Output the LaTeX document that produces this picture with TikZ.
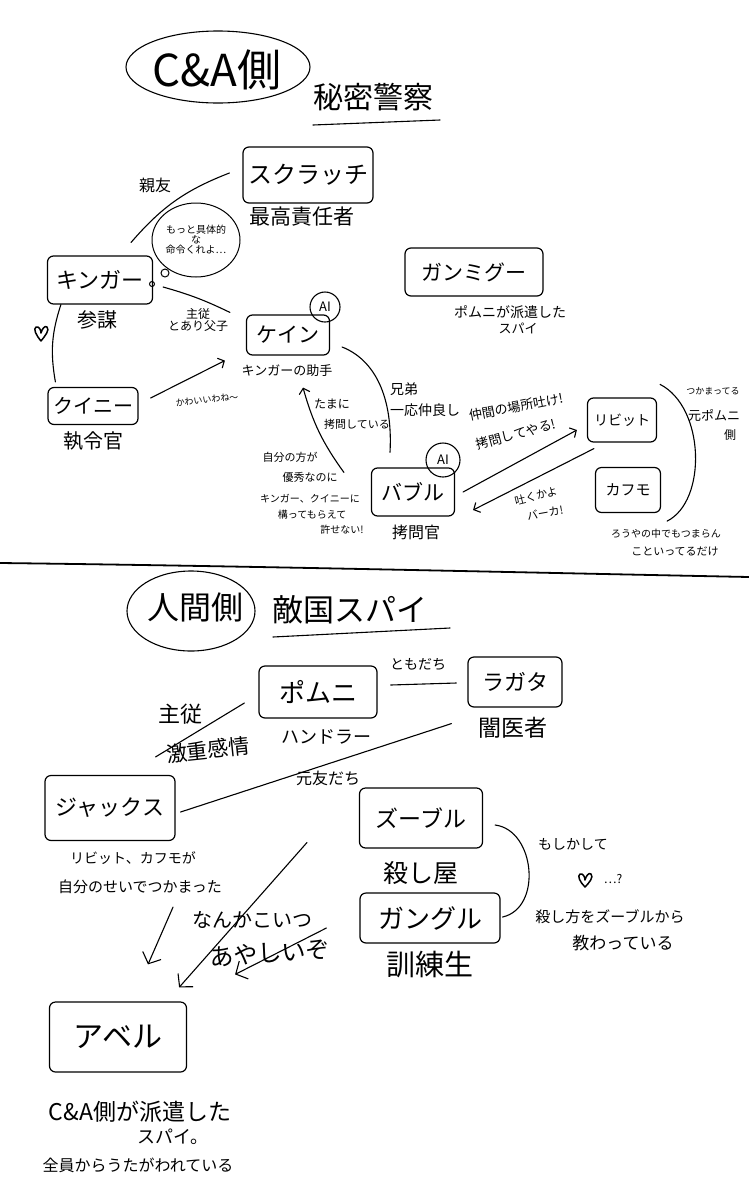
\documentclass[tikz,border=0pt]{standalone}
\usepackage{fontspec}
\setmainfont{Noto Sans CJK JP}
\usetikzlibrary{arrows.meta,calc,shapes.geometric}
\newcommand\fsz[1]{\fontsize{#1}{#1}\selectfont}
\begin{document}
\begin{tikzpicture}[x=1pt,y=-1pt,
  box/.style={draw, line width=1.2pt, rounded corners=6pt, inner sep=0pt},
  txt/.style={inner sep=0pt},
  ln/.style={line width=1.1pt, line cap=round},
  arr/.style={ln, -{Straight Barb[length=5pt,width=11pt]}},
  bigarr/.style={ln, -{Straight Barb[length=9pt,width=20pt]}},
  ai/.style={draw, circle, line width=1.1pt, inner sep=0pt, font=\fsz{13}}]
\fill[white] (0,0) rectangle (749,1200);
\useasboundingbox (0,0) rectangle (749,1200);

% ---------------- upper half ----------------
\node[txt, font=\fsz{44}] (ca) at (217,70) {C\&A側};
\draw[ln] ([shift={(1,-3)}]ca.center) ellipse [x radius=92pt, y radius=36pt];
\node[txt, font=\fsz{30}] (hm) at (373,97) {秘密警察};
\draw[ln] ([shift={(-60,28)}]hm.center) -- ([shift={(67,23)}]hm.center);

\node[box, minimum width=130pt, minimum height=56pt, font=\fsz{24}] (scratch) at (308,175) {スクラッチ};
\node[txt, font=\fsz{21}] (scratchL) at (302,217) {最高責任者};
\node[txt, font=\fsz{16}] (shinyu) at (155,185) {親友};
\node[draw, ellipse, line width=1pt, minimum width=88pt, minimum height=74pt, inner sep=0pt, align=center, font=\fsz{10}] (think) at (196,240) {もっと具体的\\な\\命令くれよ…};
\node[draw, circle, line width=1pt, minimum size=8pt, inner sep=0pt] (tb1) at (165,273) {};
\node[draw, circle, line width=1pt, minimum size=5pt, inner sep=0pt] (tb2) at (152,284) {};

\node[box, minimum width=105pt, minimum height=48pt, font=\fsz{22}] (kinger) at (100,280) {キンガー};
\node[txt, font=\fsz{20}] (kingerL) at (97,320) {参謀};

\node[box, minimum width=83pt, minimum height=40pt, font=\fsz{21}] (kein) at (288,335) {ケイン};
\node[ai, minimum size=30pt] (keinAI) at (325,307) {AI};
\node[txt, font=\fsz{13}] (keinL) at (287,371) {キンガーの助手};
\node[txt, font=\fsz{12}, align=center] (shujuu) at (198,320) {主従\\とあり父子};

\node[box, minimum width=90pt, minimum height=37pt, font=\fsz{20}] (quinny) at (93,406) {クイニー};
\node[txt, font=\fsz{20}] (quinnyL) at (93,441) {執令官};
\node[txt, font=\fsz{9}, rotate=6] (kawaii) at (207,400) {かわいいわね〜};

\node[box, minimum width=138pt, minimum height=48pt, font=\fsz{21}] (gmg) at (474,272) {ガンミグー};
\node[txt, font=\fsz{14}] (gmgL1) at (510,312) {ポムニが派遣した};
\node[txt, font=\fsz{13}] (gmgL2) at (518,328) {スパイ};

\node[box, minimum width=83pt, minimum height=48pt, font=\fsz{21}] (bubble) at (413,492) {バブル};
\node[ai, minimum size=34pt] (bubbleAI) at (443,460) {AI};
\node[txt, font=\fsz{16}] (bubbleL) at (416,532) {拷問官};

\node[txt, font=\fsz{14}, anchor=west] (kyodai1) at (390,389) {兄弟};
\node[txt, font=\fsz{14}, anchor=west] (kyodai2) at (390,410) {一応仲良し};
\node[txt, font=\fsz{12}] (tama1) at (332,404) {たまに};
\node[txt, font=\fsz{11}] (tama2) at (357,424) {拷問している};

\node[txt, font=\fsz{11}] (j1) at (290,457) {自分の方が};
\node[txt, font=\fsz{11}] (j2) at (310,477) {優秀なのに};
\node[txt, font=\fsz{10}] (j3) at (310,499) {キンガー、クイニーに};
\node[txt, font=\fsz{10}] (j4) at (312,515) {構ってもらえて};
\node[txt, font=\fsz{10}] (j5) at (342,530) {許せない!};

\node[box, minimum width=69pt, minimum height=44pt, font=\fsz{14}] (ribbit) at (622,420) {リビット};
\node[box, minimum width=65pt, minimum height=45pt, font=\fsz{15}] (kaufmo) at (628,490) {カフモ};

\node[txt, font=\fsz{13}, rotate=11] (haki1) at (516,407) {仲間の場所吐け!};
\node[txt, font=\fsz{13}, rotate=15] (haki2) at (516,434) {拷問してやる!};
\node[txt, font=\fsz{11}, rotate=14] (baka1) at (536,496) {吐くかよ};
\node[txt, font=\fsz{11}, rotate=10] (baka2) at (545,513) {バーカ!};

\node[txt, font=\fsz{9}] (cap1) at (713,391) {つかまってる};
\node[txt, font=\fsz{13}] (cap2) at (714,415) {元ポムニ};
\node[txt, font=\fsz{12}] (cap3) at (730,435) {側};
\node[txt, font=\fsz{10}] (roya1) at (666,534) {ろうやの中でもつまらん};
\node[txt, font=\fsz{11}] (roya2) at (675,552) {こといってるだけ};

% heart (upper)
\draw[line width=1.5pt, line cap=round, line join=round] (41,341) .. controls (36,335) and (33,329) .. (36,327) .. controls (39,326) and (41,330) .. (41,333)
          .. controls (42,329) and (45,325) .. (47,327) .. controls (50,330) and (45,336) .. (41,341);

% connectors (upper)
\draw[ln] ([shift={(-22,-13)}]kinger.north east) to[bend left=14] ([shift={(-13,-2)}]scratch.west);
\draw[ln] ([shift={(10,7)}]kinger.east) to[bend left=5] ([shift={(-16,-2)}]kein.north west);
\draw[ln] ([shift={(14,0)}]kinger.south west) to[bend right=14] ([shift={(8,-5)}]quinny.north west);
\draw[arr] ([shift={(12,-8)}]quinny.east) -- ([shift={(-21,5)}]kein.south west);
\draw[ln] ([shift={(12,12)}]kein.east) .. controls ($(kein.east)+(45,25)$) and ($(bubble.north)+(-20,-70)$) .. ([shift={(-23,-15)}]bubble.north);
\draw[arr] ([shift={(-27,5)}]bubble.north west) to[bend left=10] ([shift={(15,32)}]kein.south);
\draw[arr] ([shift={(8,0)}]bubble.east) -- ([shift={(-10,10)}]ribbit.west);
\draw[arr] ([shift={(7,6)}]ribbit.south west) -- ([shift={(18,18)}]bubble.east);
\draw[ln] ([shift={(3,-13)}]ribbit.north east) .. controls ($(ribbit.north east)+(48,10)$) and ($(kaufmo.south east)+(46,-12)$) .. ([shift={(6,8)}]kaufmo.south east);

% divider
\draw[line width=1.8pt] (0,563) .. controls (250,566) and (500,572) .. (749,577);

% ---------------- lower half ----------------
\node[txt, font=\fsz{32}] (ningen) at (195,607) {人間側};
\draw[ln] ([shift={(-4,4)}]ningen.center) ellipse [x radius=64pt, y radius=40pt];
\node[txt, font=\fsz{31}] (teki) at (350,610) {敵国スパイ};
\draw[ln] ([shift={(-77,27)}]teki.center) -- ([shift={(100,18)}]teki.center);

\node[box, minimum width=118pt, minimum height=52pt, font=\fsz{26}] (pomni) at (318,692) {ポムニ};
\node[txt, font=\fsz{18}] (pomniL) at (326,737) {ハンドラー};
\node[txt, font=\fsz{14}] (tomo) at (418,664) {ともだち};
\node[box, minimum width=94pt, minimum height=50pt, font=\fsz{22}] (ragatha) at (515,682) {ラガタ};
\node[txt, font=\fsz{23}] (ragathaL) at (513,728) {闇医者};

\node[txt, font=\fsz{22}] (shuju2) at (180,714) {主従};
\node[txt, font=\fsz{21}, rotate=6] (gekijuu) at (208,750) {激重感情};
\node[txt, font=\fsz{16}] (motoTomo) at (328,778) {元友だち};

\node[box, minimum width=130pt, minimum height=65pt, font=\fsz{22}] (jax) at (110,808) {ジャックス};
\node[txt, font=\fsz{14}] (jaxL1) at (133,858) {リビット、カフモが};
\node[txt, font=\fsz{15}] (jaxL2) at (140,887) {自分のせいでつかまった};

\node[box, minimum width=123pt, minimum height=60pt, font=\fsz{23}] (zooble) at (421,818) {ズーブル};
\node[txt, font=\fsz{25}] (zoobleL) at (421,873) {殺し屋};
\node[box, minimum width=140pt, minimum height=50pt, font=\fsz{26}] (gangle) at (430,918) {ガングル};
\node[txt, font=\fsz{29}] (gangleL) at (430,965) {訓練生};

\node[txt, font=\fsz{14}] (moshi) at (573,844) {もしかして};
\node[txt, font=\fsz{12}] (dots) at (613,879) {…?};
\node[txt, font=\fsz{15}] (koro1) at (610,917) {殺し方をズーブルから};
\node[txt, font=\fsz{17}] (koro2) at (623,943) {教わっている};

\node[txt, font=\fsz{20}] (nanka) at (252,920) {なんかこいつ};
\node[txt, font=\fsz{24}, rotate=4] (ayashii) at (270,953) {あやしいぞ};

\node[box, minimum width=137pt, minimum height=70pt, font=\fsz{30}] (abel) at (118,1037) {アベル};
\node[txt, font=\fsz{23}] (abelL1) at (140,1112) {C\&A側が派遣した};
\node[txt, font=\fsz{18}] (abelL2) at (173,1137) {スパイ。};
\node[txt, font=\fsz{16}] (abelL3) at (138,1165) {全員からうたがわれている};

% heart (lower)
\draw[line width=1.5pt, line cap=round, line join=round] (585,887) .. controls (580,882) and (577,876) .. (580,874) .. controls (583,873) and (585,877) .. (585,880)
          .. controls (586,876) and (589,872) .. (591,874) .. controls (594,877) and (589,883) .. (585,887);

% connectors (lower)
\draw[ln] ([shift={(13,-7)}]pomni.east) -- ([shift={(-11,1)}]ragatha.west);
\draw[ln] ([shift={(-14,11)}]pomni.west) -- ([shift={(-20,-18)}]jax.north east);
\draw[ln] ([shift={(5,4)}]jax.east) -- ([shift={(-16,16)}]ragatha.south west);
\draw[ln] ([shift={(12,7)}]zooble.east) .. controls ($(zooble.east)+(52,12)$) and ($(gangle.east)+(42,-10)$) .. ([shift={(2,-1)}]gangle.east);
\draw[bigarr] ([shift={(-52,-6)}]zooble.south west) -- ([shift={(-8,-14)}]abel.north east);
\draw[bigarr] ([shift={(33,13)}]jaxL2.south) -- ([shift={(30,-37)}]abel.north);
\draw[bigarr] ([shift={(-33,10)}]gangle.west) -- ([shift={(48,-27)}]abel.north east);
\end{tikzpicture}
\end{document}
